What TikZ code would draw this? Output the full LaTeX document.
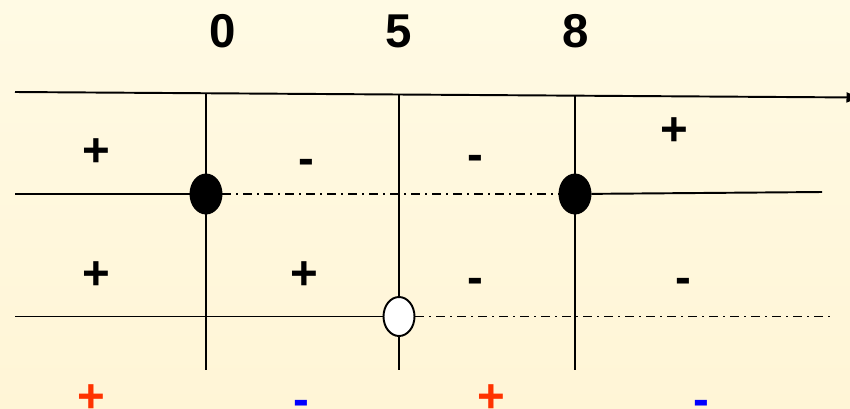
\documentclass[tikz,border=0pt]{standalone}
\usepackage{fontspec}
\setmainfont{Liberation Sans}
\usepackage{tikz}
\usetikzlibrary{arrows.meta,shapes.geometric}
\definecolor{plusred}{RGB}{255,51,0}
\definecolor{minusblue}{RGB}{0,0,255}
\definecolor{bgtop}{RGB}{255,250,228}
\definecolor{bgbot}{RGB}{255,245,214}

\begin{document}
\begin{tikzpicture}[line width=1.1pt,
    signtxt/.style={font=\fontsize{27}{27}\selectfont\bfseries, inner sep=0pt},
    closedpt/.style={ellipse, draw, fill=black, minimum width=0.62cm, minimum height=0.78cm, inner sep=0pt},
    openpt/.style={ellipse, draw, fill=white, minimum width=0.62cm, minimum height=0.78cm, inner sep=0pt},
    dashdot/.style={dash pattern=on 0.18cm off 0.1cm on 0.04cm off 0.1cm}]
                    % Background
                    \useasboundingbox (0,0) rectangle (17,-8.16);
                    \fill[top color=bgtop, bottom color=bgbot] (0,0) rectangle (17,-8.16);
                    % Roots
                    \node[signtxt] (n0) at (4.46,-0.62) {0};
                    \node[signtxt] (n5) at (7.98,-0.62) {5};
                    \node[signtxt] (n8) at (11.51,-0.62) {8};
                    % Axis and grid
                    \coordinate (ax0) at (0.3,-1.84);
                    \coordinate (ax1) at (17.18,-1.95);
                    \coordinate (t0) at (4.12,-1.86);
                    \coordinate (t5) at (7.98,-1.89);
                    \coordinate (t8) at (11.5,-1.91);
                    \coordinate (b0) at (4.12,-7.4);
                    \coordinate (b5) at (7.98,-7.4);
                    \coordinate (b8) at (11.5,-7.4);
                    \coordinate (c0) at (4.12,-3.88);
                    \coordinate (c8) at (11.5,-3.88);
                    \coordinate (c5) at (7.98,-6.33);
                    \coordinate (r1l) at (0.3,-3.88);
                    \coordinate (r1r) at (16.44,-3.84);
                    \coordinate (r2l) at (0.3,-6.33);
                    \coordinate (r2r) at (16.62,-6.33);
                    \draw[-{Triangle[length=0.25cm,width=0.2cm]}] (ax0) -- (ax1);
                    \draw (t0) -- (b0);
                    \draw (t5) -- (b5);
                    \draw (t8) -- (b8);
                    % Points
                    \node[closedpt] (p0) at (c0) {};
                    \node[closedpt] (p8) at (c8) {};
                    \node[openpt] (q5) at (c5) {};
                    % Rows
                    \draw (r1l) -- (p0);
                    \draw[dashdot] (p0) -- (p8);
                    \draw (p8) -- (r1r);
                    \draw (r2l) -- (q5);
                    \draw[dashdot] (q5) -- (r2r);
                    % Signs, first row
                    \node[signtxt] (s11) at (1.92,-3.05) {+};
                    \node[signtxt] (s12) at (6.12,-3.34) {-};
                    \node[signtxt] (s13) at (9.5,-3.25) {-};
                    \node[signtxt] (s14) at (13.49,-2.64) {+};
                    % Signs, second row
                    \node[signtxt] (s21) at (1.92,-5.51) {+};
                    \node[signtxt] (s22) at (6.08,-5.51) {+};
                    \node[signtxt] (s23) at (9.5,-5.72) {-};
                    \node[signtxt] (s24) at (13.67,-5.72) {-};
                    % Product
                    \node[signtxt, text=plusred] (s31) at (1.83,-7.97) {+};
                    \node[signtxt, text=minusblue] (s32) at (6.02,-8.16) {-};
                    \node[signtxt, text=plusred] (s33) at (9.83,-7.97) {+};
                    \node[signtxt, text=minusblue] (s34) at (14.02,-8.16) {-};
\end{tikzpicture}
\end{document}
